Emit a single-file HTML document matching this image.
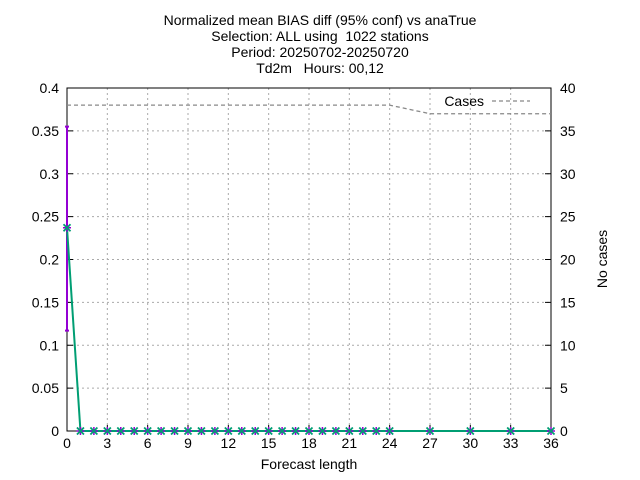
<!DOCTYPE html>
<html><head><meta charset="utf-8"><style>
body{margin:0;background:#fff}
svg{display:block;font-family:"Liberation Sans",sans-serif}
.pre{white-space:pre}
</style></head><body>
<svg id="c" width="640" height="480" viewBox="0 0 640 480">
<g font-size="14" text-anchor="middle" fill="#000">
<text x="320" y="25" class="pre">Normalized mean BIAS diff (95% conf) vs anaTrue</text>
<text x="320" y="41" class="pre" xml:space="preserve">Selection: ALL using  1022 stations</text>
<text x="320" y="57" class="pre">Period: 20250702-20250720</text>
<text x="320" y="73" class="pre" xml:space="preserve">Td2m   Hours: 00,12</text>
</g>
<g id="grid"></g>
<g id="axes"></g>
<g id="series"></g>
<text x="309" y="469" font-size="14" text-anchor="middle">Forecast length</text>
<text transform="translate(607,259) rotate(-90)" font-size="14" text-anchor="middle">No cases</text>
<g>
<text x="484" y="106" font-size="14" text-anchor="end">Cases</text>
<line x1="492" y1="101" x2="530" y2="101" stroke="#888" stroke-width="1.3" stroke-dasharray="4,3"/>
</g>
</svg>
<script>
const leads=[0,1,2,3,4,5,6,7,8,9,10,11,12,13,14,15,16,17,18,19,20,21,22,23,24,27,30,33,36];
const bias=[0.237,0,0,0,0,0,0,0,0,0,0,0,0,0,0,0,0,0,0,0,0,0,0,0,0,0,0,0,0];
const ciLow=[0.117];
const ciHigh=[0.355];
const cases=[38,38,38,38,38,38,38,38,38,38,38,38,38,38,38,38,38,38,38,38,38,38,38,38,38,37,37,37,37];
const xTicks=[0,3,6,9,12,15,18,21,24,27,30,33,36];
const yTicks=[0,0.05,0.1,0.15,0.2,0.25,0.3,0.35,0.4];
const y2Ticks=[0,5,10,15,20,25,30,35,40];
const L=67,R=551,T=88,B=431;
const xs=v=>L+(v-0)/36*(R-L);
const ys=v=>B-v/0.4*(B-T);
const y2s=v=>B-v/40*(B-T);
const NS="http://www.w3.org/2000/svg";
function mk(p,tag,a){const e=document.createElementNS(NS,tag);for(const k in a)e.setAttribute(k,a[k]);p.appendChild(e);return e;}
const grid=document.getElementById('grid'),axes=document.getElementById('axes'),ser=document.getElementById('series');
xTicks.forEach(t=>{
 if(t>0&&t<36){const g=mk(grid,'line',{x1:xs(t),x2:xs(t),y1:T,y2:B,stroke:'#aaa','stroke-dasharray':'2,3'});
 
 }
 const tk=mk(axes,'line',{x1:xs(t),x2:xs(t),y1:B,y2:B-6,stroke:'#000'});
 
 
 const tx=mk(axes,'text',{x:xs(t),y:B+17,'font-size':14,'text-anchor':'middle'});tx.textContent=t;
 
 
});
yTicks.forEach(t=>{
 if(t>0&&t<0.4){const g=mk(grid,'line',{x1:L,x2:R,y1:ys(t),y2:ys(t),stroke:'#aaa','stroke-dasharray':'2,3'});
 
 }
 const tx=mk(axes,'text',{x:L-8,y:ys(t)+5,'font-size':14,'text-anchor':'end'});tx.textContent=t;
 
 
 mk(axes,'line',{x1:L,x2:L+6,y1:ys(t),y2:ys(t),stroke:'#000'});
});
y2Ticks.forEach(t=>{
 const tx=mk(axes,'text',{x:R+9,y:y2s(t)+5,'font-size':14,'text-anchor':'start'});tx.textContent=t;
 
 
 mk(axes,'line',{x1:R,x2:R-6,y1:y2s(t),y2:y2s(t),stroke:'#000'});
});
const fr=mk(axes,'rect',{x:L,y:T,width:R-L,height:B-T,fill:'none',stroke:'#000'});


const cl=mk(ser,'polyline',{points:leads.map((d,i)=>xs(d)+','+y2s(cases[i])).join(' '),fill:'none',stroke:'#888','stroke-width':1.3,'stroke-dasharray':'4,3'});


ciLow.forEach((lo,i)=>{
 const x=xs(leads[i]);
 const eb=mk(ser,'path',{d:`M${x},${ys(lo)}V${ys(ciHigh[i])}M${x-2},${ys(lo)}h4M${x-2},${ys(ciHigh[i])}h4`,stroke:'#9400d3','stroke-width':2,fill:'none'});
 
 
});
const bl=mk(ser,'polyline',{points:leads.map((d,i)=>xs(d)+','+ys(bias[i])).join(' '),fill:'none',stroke:'#009e73','stroke-width':2});


leads.forEach((d,i)=>{
 const x=xs(d),y=ys(bias[i]);
 const m=mk(ser,'path',{d:`M${x-4},${y}h8M${x},${y-4}v8`,stroke:'#9400d3','stroke-width':1.5});
 
 
 const m2=mk(ser,'path',{d:`M${x-3.5},${y-3.5}l7,7M${x-3.5},${y+3.5}l7,-7`,stroke:'#009e73','stroke-width':1.8});
 
 
});
</script>
</body></html>
